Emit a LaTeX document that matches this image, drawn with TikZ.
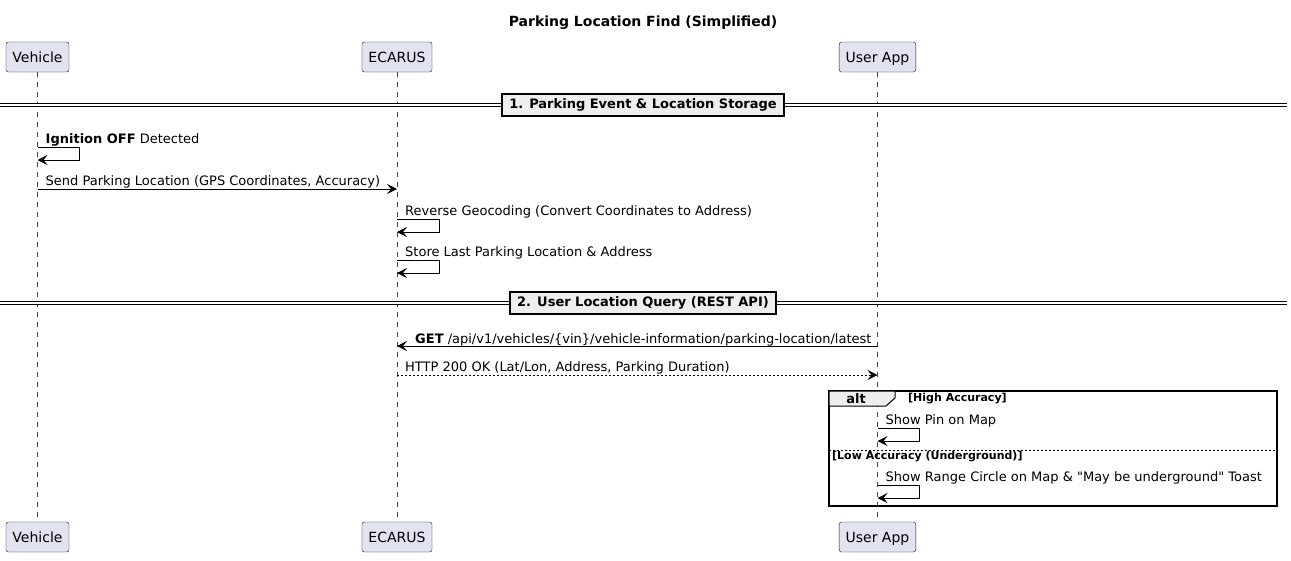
\documentclass[tikz,border=0pt]{standalone}
\usepackage{fontspec}
\setmainfont{DejaVu Sans}[Ligatures=TeXOff]
\usepackage{xcolor}
\usetikzlibrary{arrows.meta}
\definecolor{partfill}{HTML}{E2E2F0}
\definecolor{partline}{HTML}{181818}
\definecolor{divfill}{HTML}{EEEEEE}
\newcommand{\msgfont}{\fontsize{13}{15}\selectfont}

\tikzset{
  partbox/.style={draw=partline,fill=partfill,rounded corners=2.5pt,minimum height=30pt,inner xsep=6.5pt,text height=11pt,text depth=1pt,font=\fontsize{14}{16}\selectfont},
  lifeline/.style={draw=partline!80,line width=0.5pt,dash pattern=on 5pt off 5pt},
  msg/.style={-{Stealth[length=10pt,width=10pt,inset=4pt]},line width=1pt},
  reply/.style={msg,dash pattern=on 2pt off 2pt},
  msglabel/.style={anchor=west,inner sep=0pt,yshift=-1.5pt,font=\msgfont},
  divbox/.style={draw,line width=1.6pt,fill=divfill,inner xsep=7pt,minimum height=22pt,font=\fontsize{13}{15}\selectfont\bfseries},
  guard/.style={anchor=west,inner sep=0pt,font=\fontsize{11}{13}\selectfont\bfseries}
}

\begin{document}
\begin{tikzpicture}[x=1pt,y=-1pt]
\useasboundingbox[fill=white](0,0) rectangle (1291,560);

\node[font=\fontsize{14}{16}\selectfont\bfseries] (title) at (643,23) {Parking Location Find (Simplified)};

% participants, top and bottom
\node[partbox] (vehT) at (37.5,57) {Vehicle};
\node[partbox] (ecaT) at (397,57) {ECARUS};
\node[partbox] (appT) at (877.5,57) {User App};
\node[partbox] (vehB) at (37.5,537) {Vehicle};
\node[partbox] (ecaB) at (397,537) {ECARUS};
\node[partbox] (appB) at (877.5,537) {User App};
\draw[lifeline] (vehT) -- (vehB);
\draw[lifeline] (ecaT) -- (ecaB);
\draw[lifeline] (appT) -- (appB);

% 1. divider
\coordinate (d1) at (0,105);
\draw[line width=0.9pt,double distance=2pt] (d1) -- ++(1287,0);
\node[divbox] (div1) at (643,105) {1. Parking Event \& Location Storage};

% rows
\coordinate (r1) at (0,147);
\coordinate (r2) at (0,189);
\coordinate (r3) at (0,219);
\coordinate (r4) at (0,260);

\node[msglabel] (m1) at ([xshift=8pt]vehT |- 0,138) {\textbf{Ignition OFF} Detected};
\draw[msg] (vehT |- r1) -- ++(42,0) -- ++(0,13) -- ++(-42,0);

\node[msglabel] (m2) at ([xshift=8pt]vehT |- 0,180) {Send Parking Location (GPS Coordinates, Accuracy)};
\draw[msg] (vehT |- r2) -- (ecaT |- r2);

\node[msglabel] (m3) at ([xshift=8pt]ecaT |- 0,210) {Reverse Geocoding (Convert Coordinates to Address)};
\draw[msg] (ecaT |- r3) -- ++(42,0) -- ++(0,13) -- ++(-42,0);

\node[msglabel] (m4) at ([xshift=8pt]ecaT |- 0,251) {Store Last Parking Location \& Address};
\draw[msg] (ecaT |- r4) -- ++(42,0) -- ++(0,13) -- ++(-42,0);

% 2. divider
\coordinate (d2) at (0,303);
\draw[line width=0.9pt,double distance=2pt] (d2) -- ++(1287,0);
\node[divbox] (div2) at (643,303) {2. User Location Query (REST API)};

\coordinate (r5) at (0,346);
\coordinate (r6) at (0,375);
\node[msglabel] (m5) at ([xshift=18pt]ecaT |- 0,338) {\textbf{GET} /api/v1/vehicles/\{vin\}/vehicle-information/parking-location/latest};
\draw[msg] (appT |- r5) -- (ecaT |- r5);

\node[msglabel] (m6) at ([xshift=8pt]ecaT |- 0,366) {HTTP 200 OK (Lat/Lon, Address, Parking Duration)};
\draw[reply] (ecaT |- r6) -- (appT |- r6);

% alt fragment
\draw[line width=1.5pt] (829,391) rectangle (1277,506);
\draw[line width=1pt,fill=divfill] (829,391) -- (895,391) -- (895,398) -- (886,406) -- (829,406) -- cycle;
\node[font=\fontsize{13}{15}\selectfont\bfseries] (alt) at (856,399) {alt};
\node[guard] (g1) at (908,399) {[High Accuracy]};
\draw[line width=0.6pt,dash pattern=on 2pt off 2pt] (829,450) -- (1277,450);
\node[guard] (g2) at (832,457) {[Low Accuracy (Underground)]};

\coordinate (r7) at (0,428);
\coordinate (r8) at (0,485);
\node[msglabel] (m7) at ([xshift=8pt]appT |- 0,419) {Show Pin on Map};
\draw[msg] (appT |- r7) -- ++(42,0) -- ++(0,13) -- ++(-42,0);

\node[msglabel] (m8) at ([xshift=8pt]appT |- 0,476) {Show Range Circle on Map \& "May be underground" Toast};
\draw[msg] (appT |- r8) -- ++(42,0) -- ++(0,13) -- ++(-42,0);
\end{tikzpicture}
\end{document}
